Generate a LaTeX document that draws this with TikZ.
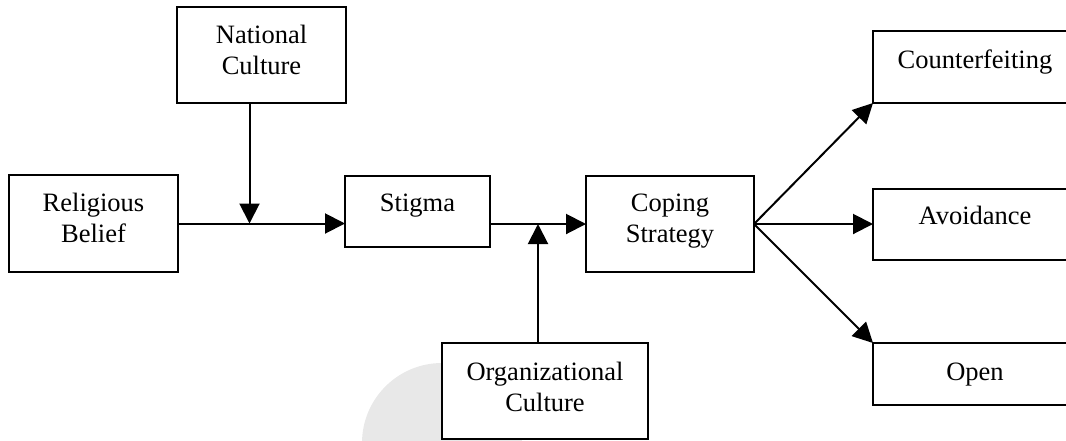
\documentclass[tikz,border=0pt]{standalone}
\usepackage{fontspec}
\setmainfont{Liberation Serif}
\usetikzlibrary{arrows.meta}
\definecolor{wmgray}{HTML}{E8E8E8}
\begin{document}
\begin{tikzpicture}[x=1pt,y=-1pt,
  box/.style={draw=black, line width=2pt, fill=white, inner sep=0pt, outer sep=0pt},
  lbl/.style={font=\fontsize{26.5}{31}\selectfont, align=center, anchor=north, inner sep=0pt},
  arr/.style={line width=2pt, -{Triangle[length=20pt,width=20pt]}}]
\useasboundingbox (0,0) rectangle (1066,440);
\clip (0,0) rectangle (1066,440);

% faint disc in the background
\fill[wmgray] (442,443) circle[radius=80];

% boxes
\node[box, minimum width=169pt, minimum height=96pt] (nat)  at (261.5,55)   {};
\node[box, minimum width=169pt, minimum height=97pt] (rel)  at (93.5,223.5) {};
\node[box, minimum width=145pt, minimum height=71pt] (stig) at (417.5,211.5) {};
\node[box, minimum width=168pt, minimum height=96pt] (cope) at (670,224)    {};
\node[box, minimum width=206pt, minimum height=96pt] (org)  at (545,391)    {};
\node[box, minimum width=204pt, minimum height=72pt] (cf)   at (975,67)     {};
\node[box, minimum width=204pt, minimum height=71pt] (av)   at (975,224)    {};
\node[box, minimum width=204pt, minimum height=62pt] (op)   at (975,374)    {};

% labels, first baseline 36pt below each box top
\node[lbl] (natL)  at ([yshift=-14.3pt]nat.north)  {\strut National\\Culture};
\node[lbl] (relL)  at ([yshift=-14.3pt]rel.north)  {\strut Religious\\Belief};
\node[lbl] (stigL) at ([yshift=-13.3pt]stig.north) {\strut Stigma};
\node[lbl] (copeL) at ([yshift=-13.8pt]cope.north) {\strut Coping\\Strategy};
\node[lbl] (orgL)  at ([yshift=-15.3pt]org.north)  {\strut Organizational\\Culture};
\node[lbl] (cfL)   at ([yshift=-15.3pt]cf.north)   {\strut Counterfeiting};
\node[lbl] (avL)   at ([yshift=-14.3pt]av.north)   {\strut Avoidance};
\node[lbl] (opL)   at ([yshift=-15.3pt]op.north)   {\strut Open};

% junctions where moderators meet the main paths
\coordinate (j1) at (249.5,223.5);
\coordinate (j2) at (538,224);

% connectors
\draw[arr] (rel.east) -- (stig.west |- rel.east);
\draw[arr] (nat.south -| j1) -- (j1);
\draw[arr] (stig.east |- cope.west) -- (cope.west);
\draw[arr] (org.north -| j2) -- (j2);
\draw[arr] (cope.east) -- (cf.south west);
\draw[arr] (cope.east) -- (av.west);
\draw[arr] (cope.east) -- (op.north west);
\end{tikzpicture}
\end{document}
